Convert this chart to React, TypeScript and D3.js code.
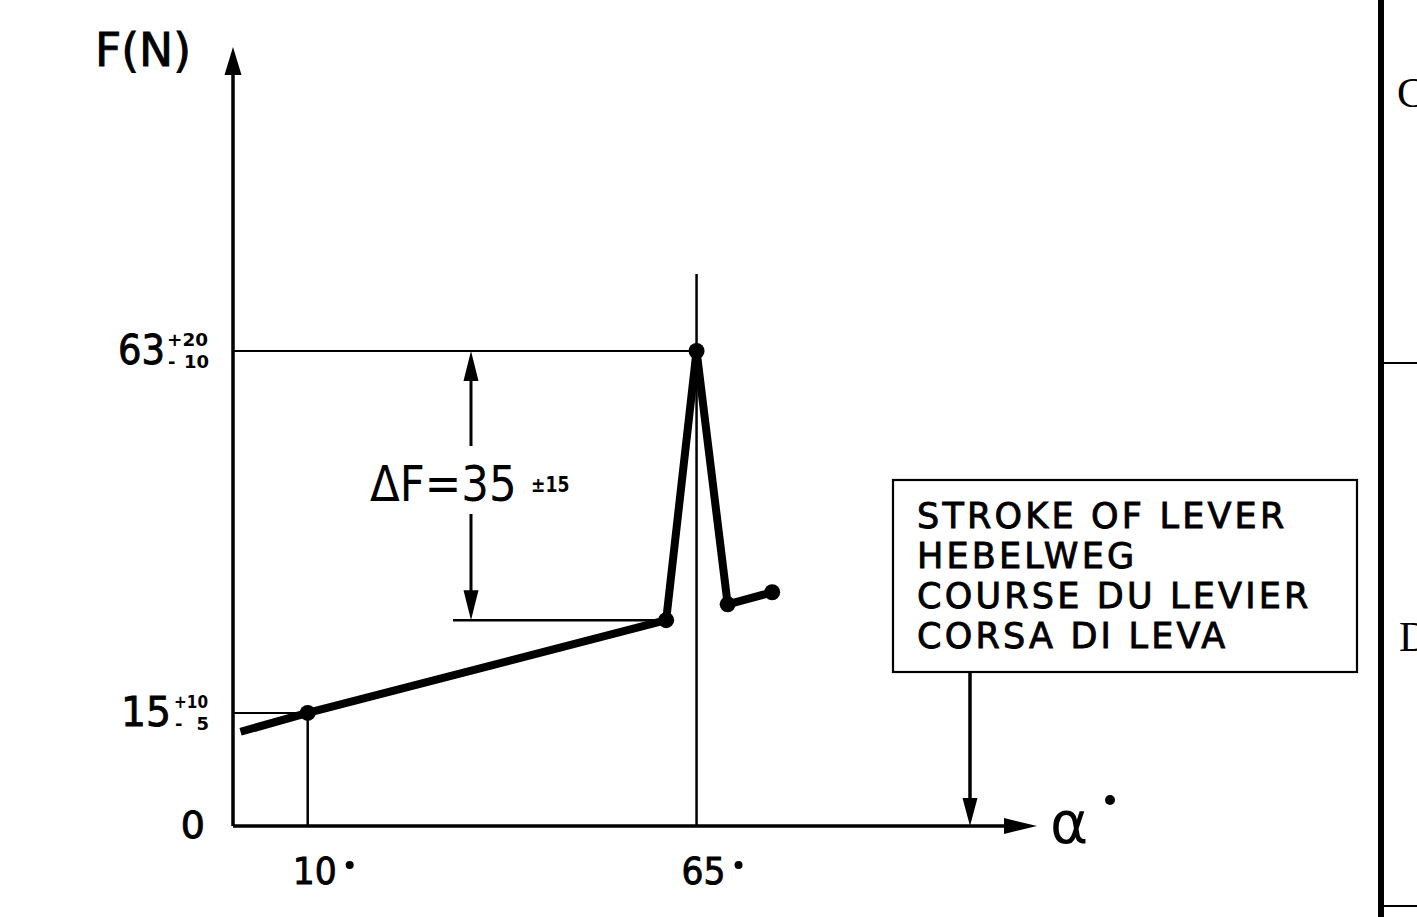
import React from "react";
import * as d3 from "d3";

// Characteristic curve: lever stroke (deg) vs force (N)
const strokeDeg = [0.5, 10, 60.7, 65, 69.4, 75.7];
const forceN = [12.5, 15, 27.3, 63, 29.4, 31];
const dotIndex = [1, 2, 3, 4, 5];

const yTicks = [0, 15, 63];
const yTickSup = ["", "+10", "+20"];
const yTickSub = ["", "5", "10"];
const xTicks = [10, 65];

const deltaLow = 27.3;
const deltaHigh = 63;
const deltaLabel = "ΔF=35";
const deltaTol = "±15";

const boxLines = ["STROKE OF LEVER", "HEBELWEG", "COURSE DU LEVIER", "CORSA DI LEVA"];

const W = 1417;
const H = 917;
const FONT = "'DejaVu Sans', 'Liberation Sans', sans-serif";

export default function App() {
  const x = d3.scaleLinear().domain([0, 100]).range([237, 944]);
  const y = d3.scaleLinear().domain([0, 63]).range([826, 351]);
  const axisX0 = 233;
  const axisY0 = y(0);
  const xAxisEnd = 1037;
  const yAxisTop = 47;

  const pts: [number, number][] = strokeDeg.map((d, i) => [x(d), y(forceN[i])]);
  const line = d3.line<[number, number]>().x((d) => d[0]).y((d) => d[1]);

  const peakX = x(strokeDeg[3]);
  const dimX = 471;
  const boxArrowX = 970;

  const arrowHead = (tx: number, ty: number, dir: "up" | "down" | "right", len: number, half: number) => {
    let p = "";
    if (dir === "up") p = `M${tx},${ty} L${tx - half},${ty + len} L${tx + half},${ty + len} Z`;
    if (dir === "down") p = `M${tx},${ty} L${tx - half},${ty - len} L${tx + half},${ty - len} Z`;
    if (dir === "right") p = `M${tx},${ty} L${tx - len},${ty - half} L${tx - len},${ty + half} Z`;
    return <path d={p} fill="#000" />;
  };

  const heavy = { stroke: "#000", strokeWidth: 0.9 };

  return (
    <svg
      width={W}
      height={H}
      viewBox={`0 0 ${W} ${H}`}
      style={{ position: "absolute", left: 0, top: 0, background: "#fff", display: "block" }}
      fontFamily={FONT}
    >
      <rect x={0} y={0} width={W} height={H} fill="#fff" />

      {/* axes */}
      <line x1={axisX0} y1={axisY0} x2={axisX0} y2={yAxisTop + 20} stroke="#000" strokeWidth={3.5} />
      {arrowHead(axisX0, yAxisTop, "up", 28, 8.5)}
      <line x1={axisX0} y1={axisY0} x2={xAxisEnd - 20} y2={axisY0} stroke="#000" strokeWidth={3.5} />
      {arrowHead(xAxisEnd, axisY0, "right", 33, 8)}

      {/* reference lines */}
      <line x1={axisX0} y1={y(63)} x2={peakX} y2={y(63)} stroke="#000" strokeWidth={2} />
      <line x1={axisX0} y1={y(15)} x2={x(10)} y2={y(15)} stroke="#000" strokeWidth={2} />
      <line x1={x(10)} y1={y(15)} x2={x(10)} y2={axisY0} stroke="#000" strokeWidth={2.5} />
      <line x1={peakX} y1={274} x2={peakX} y2={axisY0} stroke="#000" strokeWidth={2.5} />
      <line x1={453} y1={y(deltaLow)} x2={x(strokeDeg[2])} y2={y(deltaLow)} stroke="#000" strokeWidth={2.5} />

      {/* ΔF dimension */}
      <line x1={dimX} y1={y(deltaHigh) + 20} x2={dimX} y2={446} stroke="#000" strokeWidth={3} />
      <line x1={dimX} y1={514} x2={dimX} y2={y(deltaLow) - 20} stroke="#000" strokeWidth={3} />
      {arrowHead(dimX, y(deltaHigh), "up", 30, 7.5)}
      {arrowHead(dimX, y(deltaLow), "down", 30, 7.5)}
      <text transform="translate(370,501) scale(0.87,1)" fontSize={50}>
        {deltaLabel}
      </text>
      <text transform="translate(531,492) scale(0.82,1)" fontSize={21} fontWeight="bold">
        {deltaTol}
      </text>

      {/* curve */}
      <path d={line(pts) || ""} fill="none" stroke="#000" strokeWidth={8} strokeLinejoin="round" />
      {dotIndex.map((i) => (
        <circle key={i} cx={pts[i][0]} cy={pts[i][1]} r={8} fill="#000" />
      ))}

      {/* y labels */}
      <text x={95} y={66} fontSize={46} textLength={96} lengthAdjust="spacingAndGlyphs" {...heavy}>
        F(N)
      </text>
      {yTicks.map((t, i) =>
        t === 0 ? (
          <text key={t} x={205} y={838} fontSize={38} textAnchor="end" {...heavy}>
            0
          </text>
        ) : (
          <g key={t}>
            <text x={i === 1 ? 121 : 118} y={y(t) + 13} fontSize={41} textLength={i === 1 ? 50 : 47} lengthAdjust="spacingAndGlyphs" {...heavy}>
              {String(t)}
            </text>
            <text x={i === 1 ? 174 : 167} y={y(t) - 5} fontSize={18} fontWeight="bold" textLength={i === 1 ? 34 : 41} lengthAdjust="spacingAndGlyphs">
              {yTickSup[i]}
            </text>
            <text x={i === 1 ? 175 : 168} y={y(t) + 17} fontSize={18} fontWeight="bold">
              -
            </text>
            <text x={209} y={y(t) + 17} fontSize={18} fontWeight="bold" textAnchor="end">
              {yTickSub[i]}
            </text>
          </g>
        )
      )}

      {/* x labels */}
      {xTicks.map((t) => (
        <g key={t}>
          <text x={x(t) - 15} y={884} fontSize={38} textLength={44} lengthAdjust="spacingAndGlyphs" {...heavy}>
            {String(t)}
          </text>
          <circle cx={x(t) + 42} cy={865} r={4} fill="#000" />
        </g>
      ))}
      <text x={1050} y={843} fontSize={58}>
        α
      </text>
      <circle cx={1110} cy={800} r={5} fill="#000" />

      {/* legend box */}
      <rect x={893} y={480} width={464} height={192} fill="none" stroke="#000" strokeWidth={2.2} />
      {boxLines.map((s, i) => (
        <text key={s} x={917} y={528 + i * 40} fontSize={35} letterSpacing={3.2} {...heavy}>
          {s}
        </text>
      ))}
      <line x1={boxArrowX} y1={672} x2={boxArrowX} y2={800} stroke="#000" strokeWidth={3.5} />
      {arrowHead(boxArrowX, axisY0, "down", 28, 7.5)}

      {/* right edge frame */}
      <line x1={1381} y1={0} x2={1381} y2={H} stroke="#000" strokeWidth={6} />
      <line x1={1381} y1={363} x2={W} y2={363} stroke="#000" strokeWidth={2} />
      <line x1={1381} y1={906} x2={W} y2={906} stroke="#000" strokeWidth={2} />
      <text x={1397} y={107} fontSize={42} fontFamily="'Liberation Serif', serif">C</text>
      <text x={1399} y={651} fontSize={42} fontFamily="'Liberation Serif', serif">D</text>
    </svg>
  );
}
